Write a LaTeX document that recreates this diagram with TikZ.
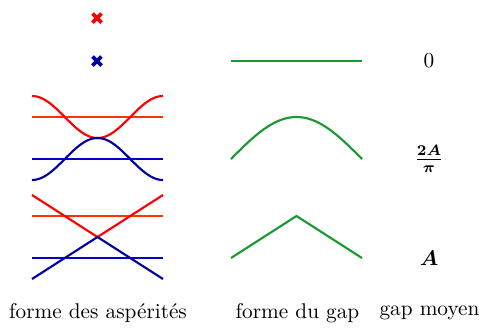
\documentclass[tikz,border=0pt]{standalone}
\usepackage{amsmath}
\usepackage{amssymb}
\usepackage{xcolor}
\usepackage{tikz}

\definecolor{asred}{RGB}{255,0,0}
\definecolor{asorange}{RGB}{255,51,0}
\definecolor{asnavy}{RGB}{0,0,160}
\definecolor{asblue}{RGB}{0,0,204}
\definecolor{gapgreen}{RGB}{26,153,51}

\begin{document}
\begin{tikzpicture}[
    x=0.47pt, y=-0.47pt,
    curve/.style={line width=1pt},
    mark x/.style={line width=1.7pt},
    txt/.style={font=\normalsize, anchor=center}
  ]
    \useasboundingbox (0,0) rectangle (479,327);
    % crosses
    \draw[mark x, asred] (92.5,13.5) -- (101.5,22.5) (92.5,22.5) -- (101.5,13.5);
    \draw[mark x, asnavy] (92.5,56.5) -- (101.5,65.5) (92.5,65.5) -- (101.5,56.5);
    % smooth asperities
    \draw[curve, asorange] (32,117) -- (163,117);
    \draw[curve, asred, domain=32:163, samples=60] plot (\x, {117-21*cos(2.748*(\x-32))});
    \draw[curve, asblue] (32,159) -- (163,159);
    \draw[curve, asnavy, domain=32:163, samples=60] plot (\x, {159+21*cos(2.748*(\x-32))});
    % sharp asperities
    \draw[curve, asorange] (32,216) -- (163,216);
    \draw[curve, asred] (32,195) -- (97.5,237) -- (163,195);
    \draw[curve, asblue] (32,258) -- (163,258);
    \draw[curve, asnavy] (32,279) -- (97.5,237) -- (163,279);
    % gap shapes
    \draw[curve, gapgreen] (231,61) -- (362,61);
    \draw[curve, gapgreen, domain=231:362, samples=60] plot (\x, {159-42*sin(1.374*(\x-231))});
    \draw[curve, gapgreen] (231,258) -- (296.5,216) -- (362,258);
    % mean gap
    \node[txt] (g0) at (429,61) {$0$};
    \node[txt] (g1) at (429,159) {$\boldsymbol{\frac{2A}{\pi}}$};
    \node[txt] (g2) at (429,258) {$\boldsymbol{A}$};
    % captions
    \node[txt] (ca) at (98,313) {forme des aspérités};
    \node[txt] (cb) at (297.5,313) {forme du gap};
    \node[txt] (cc) at (429.5,313) {gap moyen};
  \end{tikzpicture}
\end{document}
